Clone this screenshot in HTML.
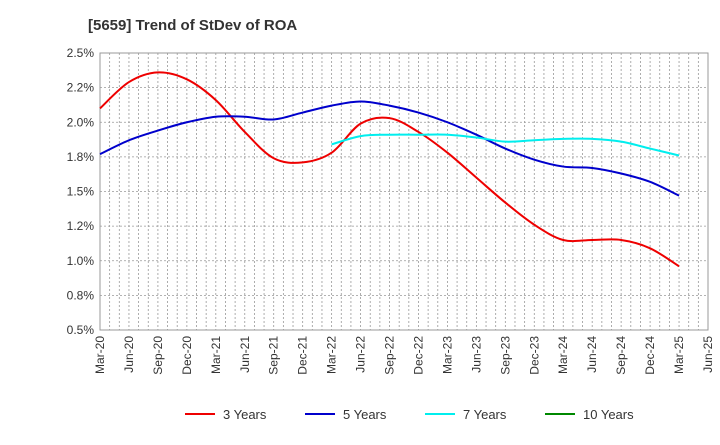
<!DOCTYPE html>
<html><head><meta charset="utf-8"><style>
body{margin:0;background:#fff;font-family:"Liberation Sans",sans-serif}
svg text{font-family:"Liberation Sans",sans-serif}
</style></head><body>
<svg id="c" width="720" height="440"></svg>
<script>
const xLabels=["Mar-20","Jun-20","Sep-20","Dec-20","Mar-21","Jun-21","Sep-21","Dec-21","Mar-22","Jun-22","Sep-22","Dec-22","Mar-23","Jun-23","Sep-23","Dec-23","Mar-24","Jun-24","Sep-24","Dec-24","Mar-25","Jun-25"];
const yTicks=[0.5,0.75,1.0,1.25,1.5,1.75,2.0,2.25,2.5];
const yTickLabels=["0.5%","0.8%","1.0%","1.2%","1.5%","1.8%","2.0%","2.2%","2.5%"];
const s3=[2.10,2.29,2.36,2.31,2.16,1.93,1.74,1.71,1.78,1.99,2.03,1.93,1.78,1.60,1.42,1.26,1.15,1.15,1.15,1.09,0.96];
const s5=[1.77,1.87,1.94,2.00,2.04,2.04,2.02,2.07,2.12,2.15,2.12,2.07,2.00,1.91,1.81,1.73,1.68,1.67,1.63,1.57,1.47];
const s7=[null,null,null,null,null,null,null,null,1.84,1.90,1.91,1.91,1.91,1.89,1.86,1.87,1.88,1.88,1.86,1.81,1.76];
const s10=[];
const svg=document.getElementById('c');const NS="http://www.w3.org/2000/svg";
const L=100,R=708,T=53,B=330;
const xq=i=>L+i*(R-L)/21;
const y=v=>B-(v-0.5)/2*(B-T);
function el(t,a,p){const e=document.createElementNS(NS,t);for(const k in a)e.setAttribute(k,a[k]);(p||svg).appendChild(e);return e;}
const t=el('text',{x:88,y:30,'font-size':15,'font-weight':'bold',fill:'#333'});t.textContent="[5659]  Trend of StDev of ROA";


el('rect',{x:L,y:T,width:R-L,height:B-T,fill:'#fff',stroke:'#999'});
for(let m=1;m<63;m++){const x=L+m*(R-L)/63;el('line',{x1:x,x2:x,y1:T,y2:B,stroke:'#999','stroke-dasharray':'2,2','stroke-width':0.8});}
yTicks.forEach((v,i)=>{if(i>0&&i<yTicks.length-1)el('line',{x1:L,x2:R,y1:y(v),y2:y(v),stroke:'#999','stroke-dasharray':'2,2','stroke-width':0.8});
const tx=el('text',{x:L-6,y:y(v)+4,'text-anchor':'end','font-size':12,fill:'#333'});tx.textContent=yTickLabels[i];

});
xLabels.forEach((s,i)=>{const x=xq(i);const tx=el('text',{transform:`translate(${x+4},${B+6}) rotate(-90)`,'text-anchor':'end','font-size':12,fill:'#333'});tx.textContent=s;

});
function path(data,color,name){const pts=[];data.forEach((v,i)=>{if(v!=null)pts.push([xq(i),y(v)]);});if(pts.length<2)return;
let d=`M${pts[0][0]},${pts[0][1]}`;for(let i=0;i<pts.length-1;i++){const p0=pts[i-1]||pts[i],p1=pts[i],p2=pts[i+1],p3=pts[i+2]||p2;
d+=` C${p1[0]+(p2[0]-p0[0])/6},${p1[1]+(p2[1]-p0[1])/6} ${p2[0]-(p3[0]-p1[0])/6},${p2[1]-(p3[1]-p1[1])/6} ${p2[0]},${p2[1]}`;}
const p=el('path',{d,fill:'none',stroke:color,'stroke-width':2});

}
path(s3,'#e00','line-3-years');path(s5,'#00c','line-5-years');path(s7,'#0ee','line-7-years');path(s10,'#080','line-10-years');
const leg=[["3 Years","#e00",185],["5 Years","#00c",305],["7 Years","#0ee",425],["10 Years","#080",545]];
leg.forEach(([n,c,x])=>{const g=el('g',{});

el('line',{x1:x,x2:x+30,y1:414,y2:414,stroke:c,'stroke-width':2},g);const tx=el('text',{x:x+38,y:419,'font-size':13,fill:'#333'},g);tx.textContent=n;});
</script></body></html>
